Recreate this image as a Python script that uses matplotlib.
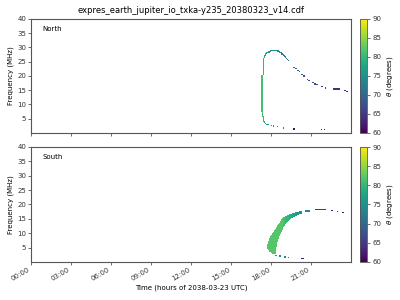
import matplotlib
matplotlib.use('Agg')
import matplotlib.pyplot as plt
import numpy as np

# emission cells: (t_start [h], t_end [h], f_low [MHz], f_high [MHz], theta [deg])
north_cells = [
    (17.30, 17.40, 7.5, 20.4, 81), (17.33, 17.40, 5.8, 7.5, 81),
    (17.40, 17.48, 4.1, 5.8, 80), (17.40, 17.48, 20.4, 26.3, 80),
    (17.48, 17.55, 3.5, 4.1, 79), (17.48, 17.55, 26.3, 27.4, 78),
    (17.55, 17.63, 3.2, 3.6, 78), (17.55, 17.63, 27.2, 27.9, 77),
    (17.63, 17.70, 3.0, 3.3, 77), (17.63, 17.70, 27.7, 28.2, 77),
    (17.70, 17.85, 2.8, 3.1, 76), (17.70, 17.78, 28.0, 28.5, 76),
    (17.78, 17.93, 28.3, 28.7, 76), (17.93, 18.00, 28.6, 29.0, 75),
    (18.00, 18.45, 28.8, 29.2, 75), (18.45, 18.60, 28.6, 29.0, 74),
    (18.60, 18.70, 28.3, 28.7, 74), (18.70, 18.80, 28.0, 28.4, 73),
    (18.80, 18.90, 27.6, 28.0, 73), (18.90, 19.00, 27.2, 27.6, 72),
    (19.00, 19.08, 26.8, 27.2, 72), (19.08, 19.15, 26.4, 26.8, 72),
    (19.15, 19.23, 26.0, 26.4, 71), (19.23, 19.30, 25.6, 26.0, 71),
    (19.30, 19.38, 25.2, 25.6, 71),
    (18.00, 18.08, 2.6, 2.9, 75), (18.15, 18.23, 2.4, 2.7, 75),
    (18.45, 18.53, 2.1, 2.4, 74), (18.90, 18.98, 1.7, 2.0, 73),
    (19.65, 19.80, 1.3, 1.6, 61),
    (21.82, 21.85, 1.05, 1.2, 62), (21.98, 22.00, 1.05, 1.2, 62),
    (19.72, 19.80, 22.9, 23.2, 70), (19.84, 19.92, 22.5, 22.8, 70),
    (20.00, 20.08, 21.9, 22.2, 69), (20.10, 20.18, 21.5, 21.8, 69),
    (20.32, 20.40, 20.3, 20.6, 69), (20.44, 20.52, 19.9, 20.2, 68),
    (20.72, 20.80, 18.6, 18.9, 68), (20.84, 20.92, 18.2, 18.5, 68),
    (21.12, 21.20, 17.5, 17.8, 67), (21.28, 21.36, 17.1, 17.4, 67),
    (21.44, 21.52, 16.8, 17.1, 67), (21.80, 21.88, 16.1, 16.4, 66),
    (22.08, 22.16, 15.7, 16.0, 66),
    (22.68, 23.20, 15.3, 15.6, 64),
    (23.52, 23.60, 14.8, 15.1, 64), (23.68, 23.76, 14.5, 14.8, 63),
]

# south main band, one column per time step
band_t = [17.700, 17.775, 17.850, 17.925, 18.000, 18.075, 18.150, 18.225,
          18.300, 18.375, 18.450, 18.525, 18.600, 18.675, 18.750, 18.825,
          18.900, 18.975, 19.050, 19.125, 19.200, 19.275, 19.350, 19.425,
          19.500, 19.575, 19.650, 19.725, 19.800, 19.875, 19.950, 20.025,
          20.100, 20.175, 20.250]
band_flo = [4.8, 4.2, 3.8, 3.6, 3.3, 3.1, 3.0, 3.0,
            3.0, 5.5, 7.3, 8.3, 9.2, 10.0, 10.8, 11.5,
            12.3, 12.9, 13.4, 13.9, 14.3, 14.6, 14.9, 15.2,
            15.5, 15.7, 15.9, 16.05, 16.2, 16.35, 16.5, 16.65,
            16.8, 16.9, 17.0]
band_fhi = [6.3, 7.4, 8.4, 9.1, 9.6, 10.1, 10.6, 11.2,
            11.7, 12.3, 12.8, 13.3, 13.8, 14.3, 14.9, 15.3,
            15.6, 15.8, 16.0, 16.2, 16.4, 16.55, 16.7, 16.8,
            16.95, 17.05, 17.15, 17.25, 17.35, 17.45, 17.55, 17.65,
            17.7, 17.8, 17.85]
band_theta = [82, 82, 82, 82, 82, 82, 82, 82,
              82, 82, 82, 82, 82, 82, 82, 82,
              81, 81, 80, 80, 80, 80, 79, 79,
              78, 78, 78, 77, 77, 76, 76, 76,
              75, 75, 75]

south_cells = [
    (18.35, 18.45, 2.3, 2.6, 76), (18.65, 18.75, 2.0, 2.3, 75),
    (18.98, 19.12, 1.7, 2.0, 74), (19.28, 19.35, 1.5, 1.8, 74),
    (20.30, 20.50, 1.2, 1.5, 62),
    (20.55, 20.90, 17.8, 18.1, 74),
    (21.30, 22.10, 18.3, 18.6, 65),
    (22.56, 22.64, 17.9, 18.2, 62), (22.96, 23.04, 17.6, 17.9, 62),
    (23.36, 23.48, 17.2, 17.5, 62),
]
for t, lo, hi, th in zip(band_t, band_flo, band_fhi, band_theta):
    south_cells.append((t, t + 0.075, lo, hi, th))

panels = [('North', north_cells), ('South', south_cells)]
hour_ticks = [0, 3, 6, 9, 12, 15, 18, 21]
tick_labels = ['%02d:00' % h for h in hour_ticks]
freq_ticks = [5, 10, 15, 20, 25, 30, 35, 40]

plt.rcParams['font.size'] = 5
plt.rcParams['axes.edgecolor'] = '#555555'
plt.rcParams['xtick.color'] = '#333333'
plt.rcParams['ytick.color'] = '#333333'

fig = plt.figure(figsize=(4, 3), dpi=100)
ax_boxes = [[0.0775, 0.557, 0.80, 0.38], [0.0775, 0.127, 0.80, 0.383]]
cb_boxes = [[0.90, 0.557, 0.018, 0.38], [0.90, 0.127, 0.018, 0.383]]

# regular grid (about one pixel per cell) the cells are painted onto
dt, df = 0.075, 0.35
nt = int(round(24 / dt))
nf = int(round(40 / df)) + 1
t_edges = np.arange(nt + 1) * dt
f_edges = np.arange(nf + 1) * df

for i, (name, cells) in enumerate(panels):
    ax = fig.add_axes(ax_boxes[i])
    grid = np.full((nf, nt), np.nan)
    for t0, t1, f0, f1, th in cells:
        i0 = int(np.floor(t0 / dt))
        i1 = max(i0 + 1, int(np.round(t1 / dt)))
        j0 = int(np.floor(f0 / df))
        j1 = max(j0 + 1, int(np.round(f1 / df)))
        grid[j0:j1, i0:i1] = th
    mesh = ax.pcolormesh(t_edges, f_edges, np.ma.masked_invalid(grid),
                         cmap='viridis', vmin=60, vmax=90, shading='flat')
    ax.set_xlim(0, 24)
    ax.set_ylim(0, 40)
    ax.set_yticks(freq_ticks)
    ax.set_xticks(hour_ticks)
    ax.tick_params(length=2, width=0.5, pad=1.5)
    for s in ax.spines.values():
        s.set_linewidth(0.8)
    ax.set_ylabel('Frequency (MHz)', labelpad=2)
    ax.text(0.037, 0.91, name, transform=ax.transAxes, va='center')
    if i == 0:
        ax.set_xticklabels([])
        ax.set_title('expres_earth_jupiter_io_txka-y235_20380323_v14.cdf',
                     fontsize=6, pad=4)
    else:
        ax.set_xticklabels(tick_labels, rotation=30, ha='right')
        ax.set_xlabel('Time (hours of 2038-03-23 UTC)', labelpad=2)

    cax = fig.add_axes(cb_boxes[i])
    cb = fig.colorbar(mesh, cax=cax, ticks=[60, 65, 70, 75, 80, 85, 90])
    cb.outline.set_linewidth(0.6)
    cax.tick_params(length=2, width=0.5, pad=1.5)
    cb.set_label(r'$\theta$ (degrees)', labelpad=3)

fig.savefig('out.png', dpi=100)
